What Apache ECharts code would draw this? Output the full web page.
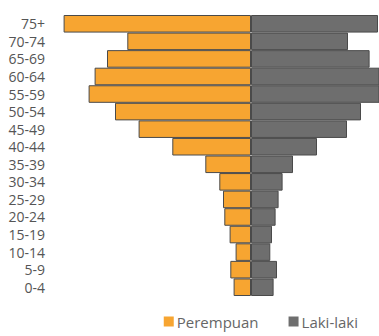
<!DOCTYPE html>
<html>
<head>
<meta charset="utf-8">
<script src="https://cdn.jsdelivr.net/npm/echarts@6/dist/echarts.min.js"></script>
<style>
  html, body { margin: 0; padding: 0; background: #fff; }
  #chart { width: 379px; height: 336px; }
</style>
</head>
<body>
<div id="chart"></div>
<script>
var ageGroups = ['0-4', '5-9', '10-14', '15-19', '20-24', '25-29', '30-34', '35-39',
  '40-44', '45-49', '50-54', '55-59', '60-64', '65-69', '70-74', '75+'];
var perempuan = [17.4, 20.7, 15.4, 21.4, 26.7, 28, 31.7, 45.7, 78.7, 112.4, 136, 162.4, 156.4, 144, 123.7, 187.4];
var lakiLaki = [22.6, 26, 19.3, 21, 24.6, 27.6, 31.6, 42, 66, 96, 110, 135, 135, 118.6, 97, 127];

(function() {
  var orange = '#F7A531';
  var grey = '#6E6E6E';
  var edge = '#4a4a4a';
  var text = '#555';

  var chart = echarts.init(document.getElementById('chart'), null, { renderer: 'svg' });
  chart.setOption({
    animation: false,
    legend: {
      data: ['Perempuan', 'Laki-laki'],
      right: 16,
      bottom: 2,
      icon: 'rect',
      itemWidth: 10,
      itemHeight: 10,
      itemGap: 30,
      itemStyle: { borderWidth: 0 },
      textStyle: { color: '#666', fontSize: 15, fontFamily: 'Open Sans', padding: [0, 0, 0, -2] }
    },
    grid: { left: 61, right: 0, top: 15, bottom: 40, containLabel: false },
    xAxis: {
      type: 'value',
      min: -190,
      max: 128,
      show: false
    },
    yAxis: {
      type: 'category',
      data: ageGroups,
      axisLine: { show: false },
      axisTick: { show: false },
      axisLabel: { interval: 0, color: text, fontSize: 14, fontFamily: 'Open Sans', margin: 16 }
    },
    series: [
      {
        name: 'Perempuan',
        type: 'bar',
        data: perempuan.map(function(v) { return -v; }),
        barCategoryGap: '0%',
        barGap: '-100%',
        itemStyle: { color: orange, borderColor: edge, borderWidth: 1 }
      },
      {
        name: 'Laki-laki',
        type: 'bar',
        data: lakiLaki,
        barCategoryGap: '0%',
        barGap: '-100%',
        itemStyle: { color: grey, borderColor: edge, borderWidth: 1 }
      }
    ]
  });
})();
</script>
</body>
</html>
